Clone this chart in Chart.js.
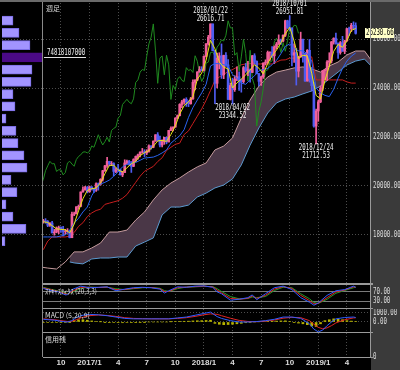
<!DOCTYPE html>
<html>
<head>
<meta charset="utf-8">
<script src="https://cdn.jsdelivr.net/npm/chart.js@4.4.1/dist/chart.umd.min.js"></script>
<style>
  body { margin: 0; background: #000; }
  #wrap { position: relative; width: 400px; height: 370px; background: #000; overflow: hidden; }
  #wrap canvas { position: absolute; }
  .ln { position: absolute; background: #9a9a9a; }
</style>
</head>
<body>
<div id="wrap">
  <div class="ln" style="left:371px;top:0;width:29px;height:370px;background:#3a3a3a"></div>
  <div class="ln" style="left:0;top:0;width:400px;height:2px;background:#6a6a6a"></div>
  <canvas id="vol" width="43" height="283" style="left:0;top:0"></canvas>
  <canvas id="main" width="357" height="283" style="left:43px;top:0"></canvas>
  <canvas id="stoch" width="357" height="23" style="left:43px;top:285px"></canvas>
  <canvas id="macd" width="357" height="23" style="left:43px;top:309px"></canvas>
  <canvas id="credit" width="357" height="37" style="left:43px;top:333px"></canvas>
  <div class="ln" style="left:42px;top:2px;width:1px;height:355px;background:#8a8a8a"></div>
  <div class="ln" style="left:370px;top:2px;width:1px;height:355px"></div>
  <div class="ln" style="left:43px;top:283px;width:330px;height:2px"></div>
  <div class="ln" style="left:43px;top:308px;width:330px;height:1px"></div>
  <div class="ln" style="left:43px;top:332px;width:330px;height:1px"></div>
  <div class="ln" style="left:43px;top:357px;width:330px;height:1px"></div>
</div>
<script>
'use strict'

// weekly candles, first one is the week of 2016/08/08 (week index -1)
const firstWeek = -1;
const opens = [
  18543, 18576, 18552, 18395, 18492, 18085, 18123, 18261, 18308, 18240, 18138, 18145, 18161, 17888, 18847, 18867,
  19152, 19171, 19757, 19843, 19934, 19763, 19964, 19885, 19827, 20094, 20071, 20269, 20624, 20822, 21005, 20903,
  20914, 20596, 20663, 20656, 20453, 20548, 20941, 21007, 20897, 20804, 21080, 21206, 21272, 21384, 21394, 21350,
  21414, 21638, 21580, 21830, 22092, 21858, 21675, 21814, 21988, 21798, 22268, 22350, 22405, 22774, 22871, 23329,
  23434, 23539, 23422, 23358, 23558, 24231, 24329, 24651, 24754, 24719, 25296, 25803, 26072, 26616, 25521, 24191,
  25219, 25310, 24538, 25336, 24946, 23533, 24103, 23933, 24360, 24463, 24311, 24263, 24831, 24715, 24753, 24635,
  25317, 25090, 24581, 24271, 24456, 25019, 25058, 25451, 25463, 25313, 25669, 25790, 25965, 25917, 26155, 26744,
  26458, 26447, 25340, 25444, 24688, 25271, 25989, 25413, 24285, 25538, 24389, 24100, 22445, 23062, 23433, 23996,
  24706, 24737, 25064, 25106, 25883, 26031, 25819, 25450, 25848, 25502, 25928, 26424, 26412, 26559, 26543
];
const highs = [
  18636, 18668, 18592, 18500, 18558, 18230, 18330, 18365, 18330, 18350, 18230, 18260, 18190, 18935, 18935, 19152,
  19225, 19757, 19966, 19987, 19981, 19999, 19973, 19890, 20125, 20125, 20298, 20639, 20840, 21169, 21010, 21000,
  20950, 20740, 20888, 20690, 20600, 21070, 21055, 21050, 21000, 21113, 21225, 21305, 21392, 21535, 21480, 21480,
  21681, 21640, 21843, 22092, 22180, 22040, 21880, 21990, 22000, 22270, 22420, 22420, 22780, 22900, 23360, 23500,
  23560, 23602, 23480, 23620, 24330, 24330, 24670, 24876, 24870, 25310, 25810, 26150, 26616.71, 26616, 25540, 25430,
  25440, 25800, 25340, 25450, 25160, 24200, 24400, 24500, 24860, 24660, 24360, 24880, 25000, 25090, 24780, 25330,
  25400, 25110, 24600, 24480, 25030, 25150, 25510, 25480, 25690, 25720, 25860, 26170, 26000, 26170, 26770, 26770,
  26951.81, 26460, 25800, 25620, 25290, 26280, 26000, 25420, 25570, 25980, 24840, 24230, 23140, 23500, 24090, 24710,
  24760, 25120, 25440, 25900, 26050, 26240, 25840, 25900, 26110, 25950, 26440, 26490, 26640, 26700, 26660
];
const lows = [
  18484, 18478, 18340, 18350, 18085, 17992, 18090, 18050, 18105, 17960, 18020, 18070, 17883, 17888, 18790, 18860,
  19050, 19150, 19750, 19830, 19719, 19750, 19835, 19732, 19780, 19831, 20035, 20200, 20590, 20760, 20820, 20830,
  20413, 20540, 20580, 20450, 20380, 20548, 20880, 20850, 20553, 20790, 20990, 21100, 21190, 21340, 21200, 21280,
  21380, 21500, 21560, 21830, 21830, 21600, 21600, 21700, 21720, 21798, 22260, 22250, 22400, 22750, 22860, 23200,
  23340, 23250, 23240, 23340, 23530, 23920, 24300, 24650, 24710, 24690, 25270, 25750, 26000, 25520, 23360, 24000,
  24780, 24390, 24380, 24880, 23530, 23510, 23344.52, 23860, 24300, 23900, 23830, 24190, 24640, 24500, 24240, 24630,
  24980, 24580, 24080, 24110, 24390, 24940, 25000, 25130, 25250, 25000, 25600, 25780, 25780, 25880, 26100, 26430,
  26350, 24900, 25040, 24120, 24450, 25270, 25050, 24270, 24280, 24240, 23880, 22400, 21712.53, 22640, 23400, 23900,
  24340, 24300, 24880, 25020, 25790, 25790, 25210, 25380, 25500, 25400, 25900, 26140, 26300, 26400, 26200
];
const closes = [
  18576, 18552, 18395, 18492, 18085, 18123, 18261, 18308, 18240, 18138, 18145, 18161, 17888, 18847, 18867, 19152,
  19171, 19757, 19843, 19934, 19763, 19964, 19885, 19827, 20094, 20071, 20269, 20624, 20822, 21005, 20903, 20914,
  20596, 20663, 20656, 20453, 20548, 20941, 21007, 20897, 20804, 21080, 21206, 21272, 21384, 21394, 21350, 21414,
  21638, 21580, 21830, 22092, 21858, 21675, 21814, 21988, 21798, 22268, 22350, 22405, 22774, 22871, 23329, 23434,
  23539, 23422, 23358, 23558, 24231, 24329, 24651, 24754, 24719, 25296, 25803, 26072, 26616, 25521, 24191, 25219,
  25310, 24538, 25336, 24946, 23533, 24103, 23933, 24360, 24463, 24311, 24263, 24831, 24715, 24753, 24635, 25317,
  25090, 24581, 24271, 24456, 25019, 25058, 25451, 25463, 25313, 25669, 25790, 25965, 25917, 26155, 26744, 26458,
  26447, 25340, 25444, 24688, 25271, 25989, 25413, 24285, 25538, 24389, 24100, 22445, 23062, 23433, 23996, 24706,
  24737, 25064, 25106, 25883, 26031, 25819, 25450, 25848, 25502, 25928, 26424, 26412, 26559, 26543, 26230.66
];

// short moving average (yellow), conversion line (blue), base line (red): every 2 weeks from week -1
const yellowLine = [
  18540, 18510, 18380, 18250, 18230, 18210, 18090, 18440, 18980, 19480, 19820, 19890, 19920, 20130, 20500, 20840,
  20850, 20660, 20570, 20740, 20910, 21000, 21240, 21360, 21450, 21620, 21840, 21860, 21820, 22100, 22450, 22940,
  23280, 23440, 23640, 24360, 24610, 25140, 25950, 25600, 25060, 24850, 24780, 24000, 24210, 24360, 24540, 24730,
  24950, 24810, 24580, 25000, 25320, 25550, 25840, 26200, 26480, 25920, 25200, 25340, 25300, 24600, 23700, 23550,
  24300, 24900, 25500, 25780, 25660, 25930, 26350, 26430
];
const blueLine = [
  17920, 17920, 17920, 17920, 17960, 18000, 18200, 18480, 18680, 18940, 19140, 19600, 19900, 20080, 20150, 20240,
  20400, 20580, 20780, 20880, 20940, 20960, 21050, 21140, 21160, 21180, 21250, 21350, 21470, 21750, 21900, 22050,
  22300, 22800, 23200, 23510, 23800, 24150, 24900, 25000, 24990, 24950, 24900, 24550, 24400, 24200, 24150, 24340,
  24500, 24700, 24750, 24800, 24950, 25130, 25400, 25700, 25800, 25600, 25520, 25520, 25400, 25100, 24000, 23800,
  23700, 23650, 23950, 24400, 24800, 25100, 25300, 25430
];
const redLine = [
  17400, 17750, 17920, 17920, 17920, 17920, 17950, 18100, 18350, 18500, 18750, 18900, 19000, 19050, 19250, 19300,
  19350, 19400, 19500, 19650, 19900, 20150, 20400, 20600, 20700, 20800, 21000, 21150, 21450, 21580, 21700, 21750,
  22100, 22250, 22550, 22850, 23150, 23500, 23900, 24300, 24450, 24550, 24680, 24750, 24850, 24950, 24980, 25000,
  24980, 24980, 24980, 24980, 24980, 25060, 25140, 25150, 25220, 25220, 25270, 25270, 25270, 25270, 24330, 24330,
  24330, 24330, 24330, 24330, 24330, 24250, 24200, 24200
];

// cloud edges (leading spans), read every 4 weeks
const cloudTopWeeks = [-2, 1, 5, 9, 13, 17, 21, 25, 29, 33, 37, 41, 45, 49, 53, 57, 61, 65, 69, 73, 77, 81, 85, 89,
  93, 97, 101, 105, 109, 113, 117, 121, 125, 129, 133, 137, 141, 145, 148];
const cloudTop = [16690, 16650, 16610, 16900, 17310, 17310, 17470, 17670, 18120, 18120, 18200, 18610, 18940, 19430,
  19840, 20120, 20330, 20570, 20780, 20940, 21470, 21630, 21960, 22780, 23510, 24080, 24450, 24650, 24730, 24820,
  24860, 24780, 24650, 24900, 25060, 25350, 25510, 25510, 25140];
const cloudBottomWeeks = [11, 13, 17, 21, 25, 29, 33, 37, 41, 45, 49, 53, 57, 61, 65, 69, 73, 77, 81, 85, 89, 93, 97,
  101, 105, 109, 113, 117, 121, 125, 129, 133, 137, 141, 145, 148];
const cloudBottom = [16900, 16860, 16820, 17020, 17060, 17060, 17100, 17100, 17550, 17710, 17880, 18820, 19140, 19140,
  19220, 19550, 19710, 19920, 20040, 20290, 20860, 21670, 22370, 22980, 23390, 23550, 23630, 23760, 23880, 24080,
  24370, 24650, 24940, 25100, 25180, 24900];

// price profile on the left, 500-wide bins
const profileBins = [26750, 26250, 25750, 25250, 24750, 24250, 23750, 23250, 22750, 22250, 21750, 21250, 20750,
  20250, 19750, 19250, 18750, 18250, 17750];
const profileVolume = [11, 17, 28, 40, 30, 29, 11, 13, 4, 14, 16, 22, 25, 9, 15, 4, 11, 24, 3];
const profileMaxLabel = '74818107000';

// stochastics (20,3,3)
const stochWeeks = [-1, 3, 6, 9, 10, 12, 16, 20, 24, 28, 32, 36, 40, 44, 48, 52, 54, 56, 60, 64, 68, 72, 76, 78, 80,
  84, 88, 92, 94, 96, 100, 104, 108, 112, 116, 120, 122, 124, 128, 132, 136, 140, 141];
const stochK = [85, 75, 70, 57, 58, 80, 95, 88, 90, 92, 75, 82, 88, 90, 88, 82, 65, 75, 92, 90, 95, 96, 90, 70, 62,
  34, 38, 45, 57, 36, 62, 88, 95, 80, 45, 25, 12, 22, 55, 75, 80, 95, 90];
const stochD = [88, 78, 72, 62, 60, 72, 90, 90, 89, 91, 80, 80, 86, 89, 89, 84, 72, 72, 88, 91, 93, 95, 92, 78, 66,
  42, 38, 42, 52, 42, 55, 82, 93, 85, 55, 32, 18, 20, 45, 70, 78, 92, 91];
const stochSD = [90, 80, 74, 66, 62, 68, 85, 91, 89, 90, 84, 80, 84, 88, 89, 86, 76, 72, 84, 91, 92, 94, 93, 84, 72,
  50, 40, 41, 48, 45, 50, 76, 90, 88, 62, 40, 24, 20, 38, 64, 76, 88, 90];

// MACD (5,20,9)
const macdWeeks = [-1, 4, 8, 10, 12, 14, 16, 18, 20, 24, 28, 32, 36, 40, 44, 48, 52, 56, 60, 64, 68, 72, 75, 78, 80,
  84, 88, 92, 96, 100, 104, 108, 112, 116, 120, 122, 124, 126, 128, 130, 132, 136, 140, 141];
const macdLine = [300, 200, 50, 0, 150, 500, 700, 800, 850, 800, 700, 550, 400, 350, 350, 350, 350, 350, 450, 550,
  750, 950, 1100, 600, 400, 150, 0, 0, 50, 150, 300, 550, 550, 400, -200, -800, -1100, -900, -400, 0, 350, 500,
  550, 500];
const signalLine = [350, 250, 120, 60, 80, 250, 450, 600, 700, 780, 730, 620, 480, 400, 370, 350, 350, 350, 400, 480,
  620, 800, 900, 850, 700, 420, 180, 60, 30, 100, 220, 420, 520, 480, 150, -250, -600, -750, -650, -400, -100, 250,
  450, 470];
// histogram every 2 weeks from week -1
const macdHist = [
  -50, -50, -50, -60, -70, -60, -20, 150, 250, 250, 200, 120, 60, 20, -20, -40,
  -60, -70, -80, -60, -40, -30, -20, -10, 0, 0, 0, 0, 0, 20, 50, 70,
  80, 90, 120, 140, 150, 170, 200, -150, -250, -300, -280, -250, -200, -150, -80, -50,
  0, 20, 50, 70, 80, 100, 120, 130, 60, -40, -120, -200, -300, -450, -500, -200,
  150, 250, 350, 300, 250, 150, 100, 50
];

// time axis
const tickWeeks = [7, 20, 33, 46, 59, 72, 85, 98, 111, 124, 137];
const tickLabels = ['10', '2017/1', '4', '7', '10', '2018/1', '4', '7', '10', '2019/1', '4'];
const priceTicks = [18000, 20000, 22000, 24000, 26000];

// marked highs and lows
const annoWeeks = [75, 111, 85, 123];
const annoDates = ['2018/01/22', '2018/10/01', '2018/04/02', '2018/12/24'];
const annoValues = [26616.71, 26951.81, 23344.52, 21712.53];
const annoSide = ['high', 'high', 'low', 'low'];

const xMin = -1.15, xMax = 147.5;
const numFont = '8px "DejaVu Sans Mono"';
const textColor = '#dcdcdc';

function pts( weeks, values )
{
  return values.map( ( v, k ) => ({ x: weeks[k], y: v }) );
}

function everyTwo( values )
{
  return values.map( ( v, k ) => ({ x: -1 + 2 * k, y: v }) );
}

function lineSet( data, color, order )
{
  return { type: 'line', data: data, borderColor: color, borderWidth: 1, pointRadius: 0, tension: 0, fill: false, order: order };
}

// narrow digits like the bitmap font of the original
function narrowText( ctx, text, x, y, align )
{
  ctx.save();
  ctx.translate( x, y );
  ctx.scale( 0.72, 1 );
  ctx.textAlign = align;
  ctx.fillText( text, 0, 0 );
  ctx.restore();
}

function xScale( showLabels )
{
  return {
    type: 'linear', min: xMin, max: xMax, offset: false,
    afterBuildTicks: s => { s.ticks = tickWeeks.map( v => ({ value: v }) ); },
    afterFit: s => { s.height = showLabels ? 13 : 0; },
    ticks: {
      display: showLabels, autoSkip: false, maxRotation: 0, padding: 1, color: textColor,
      font: { family: 'Liberation Sans', size: 8, weight: 'bold' },
      callback: ( v, idx ) => tickLabels[idx]
    },
    grid: { color: '#4c4c4c', drawTicks: false, offset: false },
    border: { display: false, dash: [1, 2] }
  };
}

function yScale( min, max, ticks, gridColor, dash )
{
  return {
    type: 'linear', position: 'right', min: min, max: max, offset: false,
    afterBuildTicks: s => { s.ticks = ticks.map( v => ({ value: v }) ); },
    afterFit: s => { s.width = 30; },
    ticks: { display: false },
    grid: { color: gridColor, drawTicks: false, offset: false },
    border: { display: false, dash: dash }
  };
}

// text drawn on the right axis and the panel title
const panelText =
{
  id: 'panelText',
  afterDraw( chart )
  {
    const opt = chart.options.plugins.panelText;
    const { ctx, chartArea: a, scales: { y } } = chart;
    ctx.save();
    ctx.textBaseline = 'middle';
    ctx.fillStyle = textColor;
    ctx.font = numFont;
    opt.axis.forEach( v => narrowText( ctx, Number( v ).toFixed( opt.dec ), a.right + 3, y.getPixelForValue( v ), 'left' ) );
    ctx.font = '7px "Noto Sans CJK JP"';
    ctx.textAlign = 'left';
    ctx.fillText( opt.title, 2, 6, opt.titleWidth );
    ctx.restore();
  }
};

// main price panel extras: last price, marked highs/lows, profile label
const mainText =
{
  id: 'mainText',
  afterDraw( chart )
  {
    const { ctx, chartArea: a, scales: { x, y } } = chart;
    ctx.save();
    ctx.textBaseline = 'middle';

    // marked highs and lows
    ctx.font = numFont;
    ctx.fillStyle = '#f0f0f0';
    annoWeeks.forEach( ( w, k ) =>
    {
      const px = x.getPixelForValue( w );
      const py = y.getPixelForValue( annoValues[k] );
      if ( annoSide[k] === 'high' )
      {
        narrowText( ctx, annoDates[k], px, Math.max( py - 13, 4 ), 'center' );
        narrowText( ctx, annoValues[k].toFixed( 2 ), px, Math.max( py - 5, 12 ), 'center' );
      }
      else
      {
        narrowText( ctx, annoDates[k], px, py + 4, 'center' );
        narrowText( ctx, annoValues[k].toFixed( 2 ), px, py + 12, 'center' );
      }
    });

    // max volume label
    const vy = y.getPixelForValue( profileBins[profileVolume.indexOf( Math.max( ...profileVolume ) )] );
    narrowText( ctx, profileMaxLabel, 4, vy - 4, 'left' );
    ctx.strokeStyle = '#e0e0e0';
    ctx.lineWidth = 1;
    ctx.beginPath();
    ctx.moveTo( 1, Math.round( vy ) + 0.5 );
    ctx.lineTo( 43, Math.round( vy ) + 0.5 );
    ctx.stroke();

    // right axis
    ctx.fillStyle = textColor;
    priceTicks.forEach( v => narrowText( ctx, v.toFixed( 2 ), a.right + 3, y.getPixelForValue( v ), 'left' ) );

    // last price box
    const last = closes[closes.length - 1];
    const ly = Math.round( y.getPixelForValue( last ) );
    ctx.fillStyle = '#ffffc8';
    ctx.fillRect( a.right - 5, ly - 5, 29, 10 );
    ctx.fillStyle = '#000';
    narrowText( ctx, last.toFixed( 2 ), a.right - 4, ly, 'left' );

    // title
    ctx.fillStyle = textColor;
    ctx.font = '7px "Noto Sans CJK JP"';
    ctx.textAlign = 'left';
    ctx.fillText( '週足', 3, 8 );
    ctx.restore();
  }
};

const noPlugins = { legend: { display: false }, tooltip: { enabled: false } };
const baseOptions =
{
  responsive: false, animation: false, events: [],
  layout: { padding: 0 },
  plugins: noPlugins
};

// candle data
const candleWeeks = closes.map( ( c, k ) => firstWeek + k );
const candleColors = closes.map( ( c, k ) => c >= opens[k] ? '#f0609a' : '#4f5cf2' );
const wickData = candleWeeks.map( ( w, k ) => ({ x: w, y: [lows[k], highs[k]] }) );
const bodyData = candleWeeks.map( ( w, k ) => ({ x: w, y: [opens[k], closes[k]] }) );

// lagging span: closes moved 26 weeks back
const laggingData = closes.map( ( c, k ) => ({ x: firstWeek + k - 26, y: c }) ).filter( p => p.x >= -3 );

new Chart( document.getElementById( 'main' ),
{
  type: 'bar',
  data:
  {
    datasets:
    [
      lineSet( pts( cloudTopWeeks, cloudTop ), '#c49a9c', 11 ),
      Object.assign( lineSet( pts( cloudBottomWeeks, cloudBottom ), '#5b9ad0', 12 ), { fill: '-1', backgroundColor: '#4a3747' } ),
      lineSet( everyTwo( redLine ), '#c81e1e', 8 ),
      lineSet( laggingData, '#1f8a1f', 7 ),
      { data: wickData, backgroundColor: candleColors, barThickness: 1, grouped: false, order: 5 },
      { data: bodyData, backgroundColor: candleColors, barThickness: 2, grouped: false, order: 4 },
      lineSet( everyTwo( blueLine ), '#2a62f0', 3 ),
      lineSet( everyTwo( yellowLine ), '#e8e810', 2 )
    ]
  },
  options: Object.assign( {}, baseOptions,
  {
    layout: { padding: { top: 3 } },
    scales:
    {
      x: xScale( false ),
      y: yScale( 16040, 27470, priceTicks, '#4c4c4c', [1, 2] )
    }
  }),
  plugins: [ mainText ]
});

new Chart( document.getElementById( 'vol' ),
{
  type: 'bar',
  data:
  {
    datasets:
    [
      {
        data: profileBins.map( ( b, k ) => ({ x: profileVolume[k], y: b }) ),
        backgroundColor: profileVolume.map( v => v === Math.max( ...profileVolume ) ? '#4b0a86' : '#a294ff' ),
        borderColor: profileVolume.map( v => v === Math.max( ...profileVolume ) ? '#4b0a86' : '#7c6ee6' ),
        borderWidth: 1,
        barThickness: 9
      }
    ]
  },
  options: Object.assign( {}, baseOptions,
  {
    indexAxis: 'y',
    layout: { padding: { left: 2, top: 3 } },
    scales:
    {
      x: { type: 'linear', min: 0, max: 41, display: false, offset: false },
      y:
      {
        type: 'linear', position: 'left', min: 16040, max: 27470, offset: false,
        afterBuildTicks: s => { s.ticks = priceTicks.map( v => ({ value: v }) ); },
        afterFit: s => { s.width = 0; },
        ticks: { display: false },
        grid: { color: '#4c4c4c', drawTicks: false, offset: false },
        border: { display: false, dash: [1, 2] }
      }
    }
  })
});

new Chart( document.getElementById( 'stoch' ),
{
  type: 'line',
  data:
  {
    datasets:
    [
      lineSet( pts( stochWeeks, stochSD ), '#1f9a2a', 3 ),
      lineSet( pts( stochWeeks, stochD ), '#e02424', 2 ),
      lineSet( pts( stochWeeks, stochK ), '#2f5cff', 1 )
    ]
  },
  options: Object.assign( {}, baseOptions,
  {
    plugins: Object.assign( {}, noPlugins,
      { panelText: { axis: [70, 30], dec: 2, title: 'ｽﾄｷｬｽﾃｨｸｽ (20,3,3)', titleWidth: 52 } } ),
    scales: { x: xScale( false ), y: yScale( 0, 100, [30, 70], '#7a7a7a', [] ) }
  }),
  plugins: [ panelText ]
});

new Chart( document.getElementById( 'macd' ),
{
  type: 'bar',
  data:
  {
    datasets:
    [
      { data: everyTwo( macdHist ), backgroundColor: '#b8b400', barThickness: 2, order: 3 },
      lineSet( pts( macdWeeks, signalLine ), '#e02424', 2 ),
      lineSet( pts( macdWeeks, macdLine ), '#2f5cff', 1 )
    ]
  },
  options: Object.assign( {}, baseOptions,
  {
    plugins: Object.assign( {}, noPlugins,
      { panelText: { axis: [1000, 0], dec: 2, title: 'MACD (5,20,9)', titleWidth: 45 } } ),
    scales: { x: xScale( false ), y: yScale( -1111, 1444, [0, 1000], '#4c4c4c', [1, 2] ) }
  }),
  plugins: [ panelText ]
});

new Chart( document.getElementById( 'credit' ),
{
  type: 'line',
  data: { datasets: [ lineSet( [], '#ffffff', 1 ) ] },
  options: Object.assign( {}, baseOptions,
  {
    plugins: Object.assign( {}, noPlugins,
      { panelText: { axis: [0], dec: 0, title: '信用残', titleWidth: 22 } } ),
    scales: { x: xScale( true ), y: yScale( 0, 100, [], '#4c4c4c', [1, 2] ) }
  }),
  plugins: [ panelText ]
});
</script>
</body>
</html>
